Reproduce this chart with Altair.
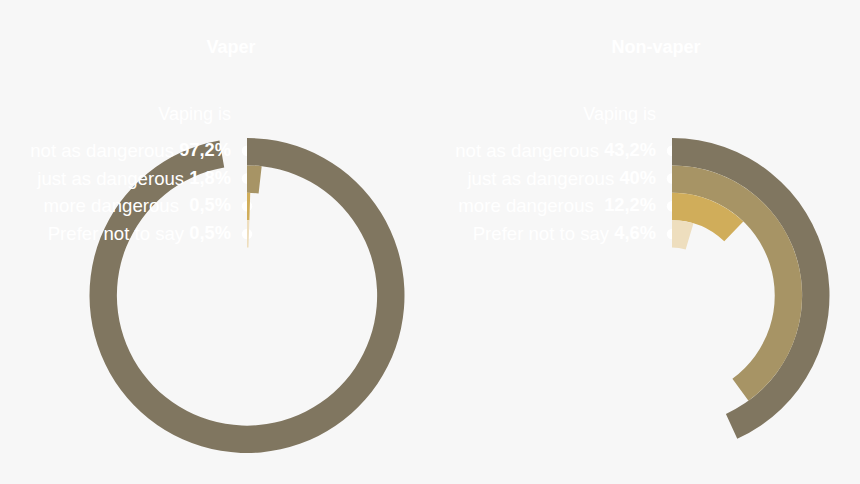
import math
import altair as alt
import pandas as pd
from altair.utils.html import TEMPLATES

# ---- data ----
groups = ["Vaper", "Non-vaper"]
answers = ["not as dangerous ", "just as dangerous ", "more dangerous  ", "Prefer not to say "]
vaper_pct = [97.2, 1.8, 0.5, 0.5]
nonvaper_pct = [43.2, 40.0, 12.2, 4.6]
vaper_labels = ["97,2%", "1,8%", "0,5%", "0,5%"]
nonvaper_labels = ["43,2%", "40%", "12,2%", "4,6%"]
header = "Vaping is"
colors = ["#807660", "#a79465", "#d0ad5a", "#eedebe"]
BG = "#f7f7f7"

FONT = "Liberation Sans"
FS = 18.6      # regular label size
FSB = 18.3     # bold value size
# Arial / Liberation Sans bold advance widths (per 1000 em)
BOLD_W = {**{d: 556 for d in "0123456789"}, ",": 278, ".": 278, "%": 889, " ": 278}
SPACE_W = 278


def bold_width(s):
    return sum(BOLD_W.get(c, 556) for c in s) / 1000 * FSB


rows = []
for g, pcts, labs in [(groups[0], vaper_pct, vaper_labels), (groups[1], nonvaper_pct, nonvaper_labels)]:
    for i, (a, p, lab) in enumerate(zip(answers, pcts, labs)):
        name = a.rstrip()
        nsp = len(a) - len(name)
        rows.append(dict(
            group=g, row=i, start=0.0, pct=p, r_out=i, r_in=i + 1, ypos=i + 0.5,
            answer=name, value_label=lab,
            offset=bold_width(lab) + nsp * SPACE_W / 1000 * FS,
        ))
df = pd.DataFrame(rows)
heads = pd.DataFrame({"group": groups, "header": [header, header]})
answer_names = [a.rstrip() for a in answers]

xscale = alt.Scale(type="point", domain=groups, range=[239, 664], padding=0)
X = alt.X("group:N", scale=xscale, axis=None)
Y = alt.Y("ypos:Q", scale=alt.Scale(domain=[0, 4], range=[128.8, 240]), axis=None)

circles = alt.Chart(df).mark_circle(color="white", opacity=1, size=110).encode(x=X, y=Y)

arcs = alt.Chart(df).mark_arc().encode(
    x=X,
    y=alt.value(287.5),
    theta=alt.Theta("start:Q", stack=None, scale=alt.Scale(domain=[0, 100], range=[0, 2 * math.pi])),
    theta2=alt.Theta2("pct:Q"),
    radius=alt.Radius("r_out:Q", scale=alt.Scale(type="linear", domain=[0, 4], range=[157.5, 48], zero=False)),
    radius2=alt.Radius2("r_in:Q"),
    color=alt.Color("answer:N", scale=alt.Scale(domain=answer_names, range=colors), legend=None),
)

labels = alt.Chart(df).mark_text(
    align="right", baseline="middle", dx=-16, font=FONT, fontSize=FS, color="white"
).encode(
    x=X, y=Y,
    xOffset=alt.XOffset("offset:Q", scale=alt.Scale(domain=[0, 100], range=[0, -100])),
    text="answer:N",
)

values = alt.Chart(df).mark_text(
    align="right", baseline="middle", dx=-16, font=FONT, fontSize=FSB, fontWeight="bold", color="white"
).encode(x=X, y=Y, text="value_label:N")

titles = alt.Chart(heads).mark_text(
    align="center", baseline="middle", dx=-16, font=FONT, fontSize=18, fontWeight="bold", color="white"
).encode(x=X, y=alt.value(39.5), text="group:N")

subheads = alt.Chart(heads).mark_text(
    align="right", baseline="middle", dx=-16, font=FONT, fontSize=18, color="white"
).encode(x=X, y=alt.value(106.5), text="header:N")

chart = alt.layer(circles, arcs, labels, values, titles, subheads).properties(
    width=844, height=468,
    autosize=alt.AutoSizeParams(type="none"),
    padding=0,
    background=BG,
).configure_view(stroke=None)


class PageTemplate:
    """Standard Altair page, with the page margin painted in the chart background."""

    def render(self, **kw):
        html = TEMPLATES["standard"].render(**kw)
        style = "<style>html, body { background: %s; }</style>" % BG
        if "<head>" in html:
            return html.replace("<head>", "<head>\n" + style, 1)
        return style + html


chart.save("out.html", embed_options={"renderer": "svg", "actions": False}, template=PageTemplate())
